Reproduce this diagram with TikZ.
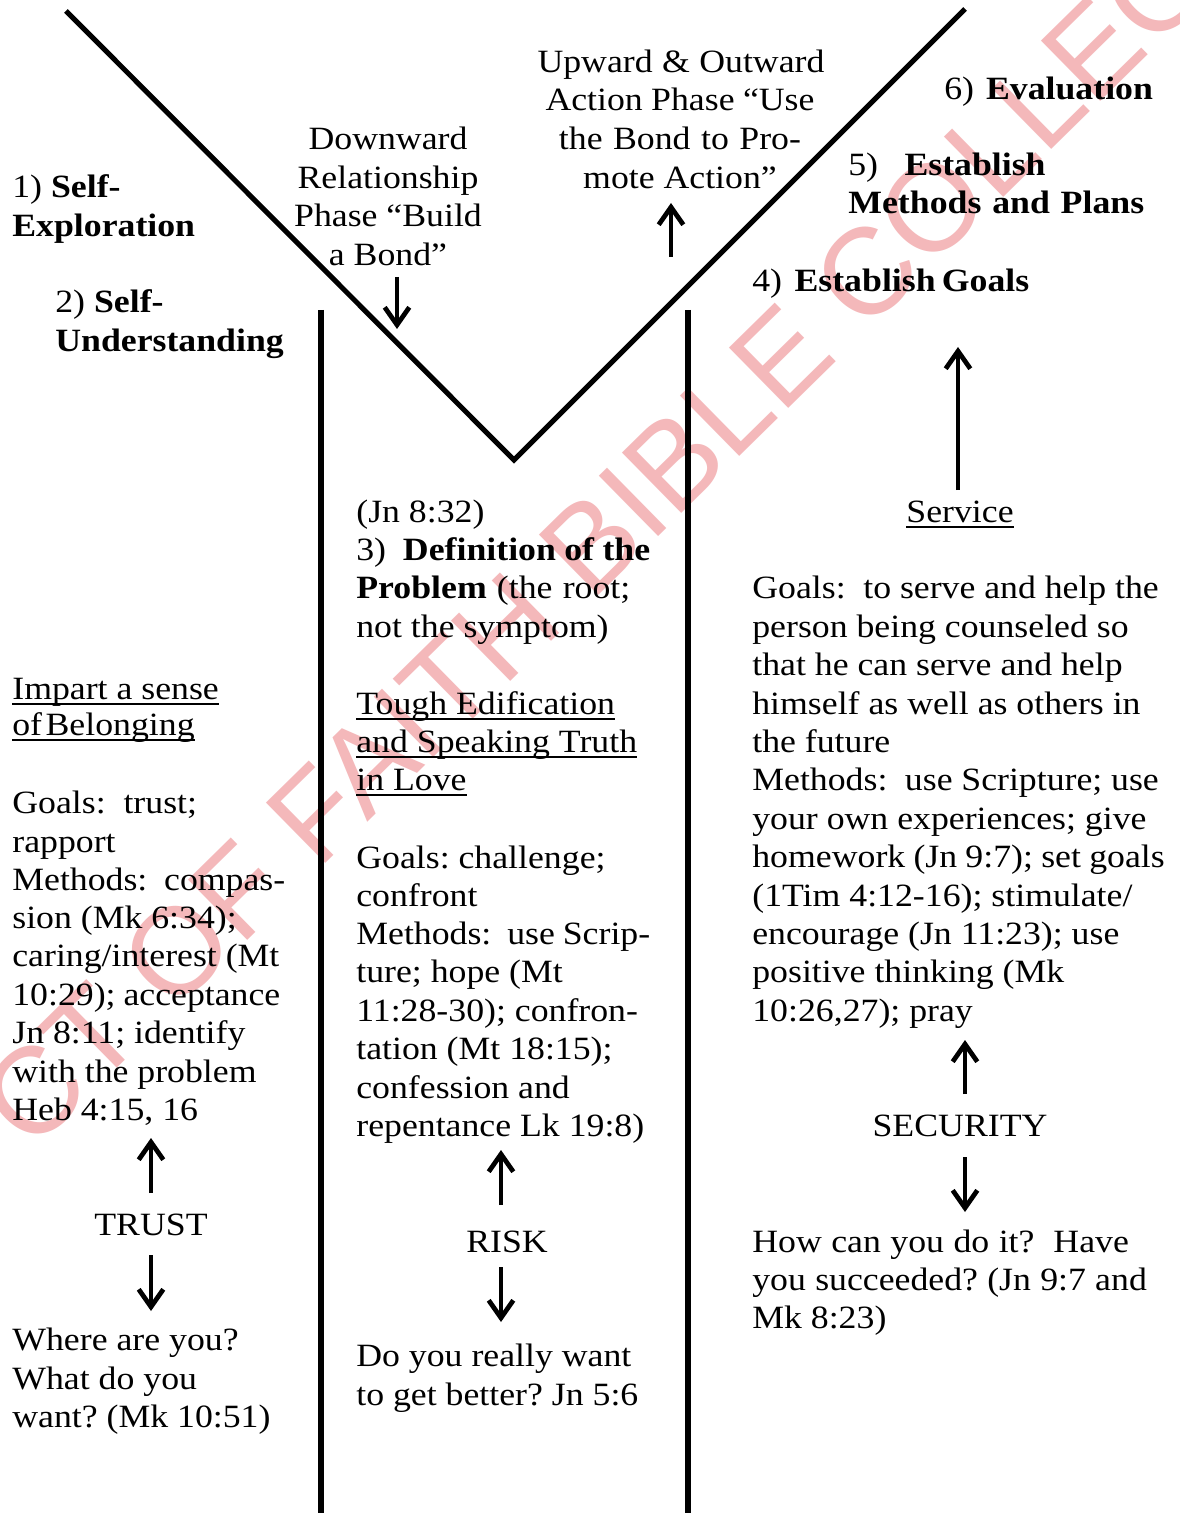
\documentclass[tikz,border=0pt]{standalone}
\usepackage{fontspec}
\setmainfont[FakeStretch=1.1]{Liberation Serif}
\newfontfamily\wmfont{Liberation Sans}
\usetikzlibrary{arrows.meta}
\definecolor{wmpink}{RGB}{244,184,186}
\newcommand\mfs{\fontsize{18.5}{22}\selectfont\frenchspacing}
\newcommand\myul[1]{\setbox0\hbox{#1}\rlap{\rule[-3.2pt]{\wd0}{0.9pt}}\box0}
\newcommand\J[2]{\makebox[\dimexpr #1pt*567/1000\relax][s]{#2}}
\begin{document}
\begin{tikzpicture}[x=0.02cm,y=-0.02cm,
  txt/.style={inner sep=0pt, anchor=base west, font=\mfs},
  ctxt/.style={inner sep=0pt, anchor=base, font=\mfs},
  vline/.style={line width=2.9pt, line join=miter},
  arr/.style={line width=2.7pt, -{Straight Barb[length=10pt,width=14pt]}}]
\useasboundingbox (0,0) rectangle (1179,1513);
\fill[white] (0,0) rectangle (1179,1513);
% watermark
\begin{scope}
\clip (0,0) rectangle (1179,1513);
\node[inner sep=0pt, anchor=base, rotate=44.5, text=wmpink, font=\wmfont\fontsize{70}{70}\selectfont] (wm) at (655,540) {CT OF FAITH BIBLE COLLEGE};
\end{scope}
% V shape and column lines
\coordinate (vl) at (66,11);
\coordinate (vb) at (514,460);
\coordinate (vr) at (965,9);
\draw[vline] (vl) -- (vb) -- (vr);
\coordinate (c1t) at (321,310);
\coordinate (c1b) at (321,1513);
\coordinate (c2t) at (688,310);
\coordinate (c2b) at (688,1513);
\draw[vline] (c1t) -- (c1b);
\draw[vline] (c2t) -- (c2b);
% top labels
\node[ctxt] (d1) at (388,150) {Downward};
\node[ctxt] (d2) at (388,189) {Relationship};
\node[ctxt] (d3) at (388,227) {Phase “Build};
\node[ctxt] (d4) at (388,266) {a Bond”};
\node[ctxt] (u1) at (681,73) {\J{288}{Upward \& Outward}};
\node[ctxt] (u2) at (680,111) {\J{270}{Action Phase “Use}};
\node[ctxt] (u3) at (680,150) {\J{243}{the Bond to Pro-}};
\node[ctxt] (u4) at (680,189) {mote Action”};
\coordinate (ad1) at (397,277);
\coordinate (ad2) at (397,329);
\draw[arr] (ad1) -- (ad2);
\coordinate (au1) at (671,257);
\coordinate (au2) at (671,203);
\draw[arr] (au1) -- (au2);
% left column
\node[txt] (s1a) at (12,198) {1) \textbf{Self-}};
\node[txt] (s1b) at (12,237) {\textbf{Exploration}};
\node[txt] (s2a) at (55,313) {2) \textbf{Self-}};
\node[txt] (s2b) at (55,352) {\textbf{Understanding}};
\node[txt] (lh1) at (12,699) {\myul{Impart a sense}};
\node[txt] (lh2) at (12,735) {\myul{of\kern2pt Belonging}};
\node[txt] (lg1) at (12,813) {Goals:~ trust;};
\node[txt] (lg2) at (12,852) {rapport};
\node[txt] (lg3) at (12,890) {\J{274}{Methods:~ compas-}};
\node[txt] (lg4) at (12,928) {sion (Mk 6:34);};
\node[txt] (lg5) at (12,966) {caring/interest (Mt};
\node[txt] (lg6) at (12,1005) {\J{269}{10:29); acceptance}};
\node[txt] (lg7) at (12,1043) {Jn 8:11; identify};
\node[txt] (lg8) at (12,1082) {with the problem};
\node[txt] (lg9) at (12,1120) {Heb 4:15, 16};
\node[ctxt] (trust) at (151,1235) {TRUST};
\node[txt] (lq1) at (12,1350) {Where are you?};
\node[txt] (lq2) at (12,1389) {What do you};
\node[txt] (lq3) at (12,1427) {want? (Mk 10:51)};
\coordinate (at1) at (151,1193);
\coordinate (at2) at (151,1138);
\draw[arr] (at1) -- (at2);
\coordinate (at3) at (151,1255);
\coordinate (at4) at (151,1311);
\draw[arr] (at3) -- (at4);
% middle column
\node[txt] (m1) at (356,522) {(Jn 8:32)};
\node[txt] (m2) at (356,560) {\J{295}{3)~ \textbf{Definition of the}}};
\node[txt] (m3) at (356,598) {\J{275}{\textbf{Problem} (the root;}};
\node[txt] (m4) at (356,637) {not the symptom)};
\node[txt] (mh1) at (356,714) {\myul{Tough Edification}};
\node[txt] (mh2) at (356,752) {\myul{and Speaking Truth}};
\node[txt] (mh3) at (356,790) {\myul{in Love}};
\node[txt] (mg1) at (356,868) {Goals: challenge;};
\node[txt] (mg2) at (356,906) {confront};
\node[txt] (mg3) at (356,944) {\J{295}{Methods:~ use Scrip-}};
\node[txt] (mg4) at (356,982) {ture; hope (Mt};
\node[txt] (mg5) at (356,1021) {11:28-30); confron-};
\node[txt] (mg6) at (356,1059) {tation (Mt 18:15);};
\node[txt] (mg7) at (356,1098) {confession and};
\node[txt] (mg8) at (356,1136) {repentance Lk 19:8)};
\node[ctxt] (risk) at (507,1252) {RISK};
\node[txt] (mq1) at (356,1366) {Do you really want};
\node[txt] (mq2) at (356,1405) {to get better? Jn 5:6};
\coordinate (ar1) at (501,1205);
\coordinate (ar2) at (501,1150);
\draw[arr] (ar1) -- (ar2);
\coordinate (ar3) at (501,1267);
\coordinate (ar4) at (501,1322);
\draw[arr] (ar3) -- (ar4);
% right column
\node[txt] (r6) at (944,100) {\J{206}{6)~ \textbf{Evaluation}}};
\node[txt] (r5a) at (848,176) {\J{198}{5)~~ \textbf{Establish}}};
\node[txt] (r5b) at (848,214) {\J{297}{\textbf{Methods and Plans}}};
\node[txt] (r4) at (752,292) {\J{278}{4)~ \textbf{Establish Goals}}};
\node[ctxt] (serv) at (960,522) {\myul{Service}};
\coordinate (as1) at (958,490);
\coordinate (as2) at (958,347);
\draw[arr] (as1) -- (as2);
\node[txt] (rg1) at (752,598) {\J{408}{Goals:~ to serve and help the}};
\node[txt] (rg2) at (752,637) {person being counseled so};
\node[txt] (rg3) at (752,675) {that he can serve and help};
\node[txt] (rg4) at (752,714) {himself as well as others in};
\node[txt] (rg5) at (752,752) {the future};
\node[txt] (rg6) at (752,790) {\J{408}{Methods:~ use Scripture; use}};
\node[txt] (rg7) at (752,829) {your own experiences; give};
\node[txt] (rg8) at (752,867) {\J{414}{homework (Jn 9:7); set goals}};
\node[txt] (rg9) at (752,906) {(1Tim 4:12-16); stimulate/};
\node[txt] (rg10) at (752,944) {encourage (Jn 11:23); use};
\node[txt] (rg11) at (752,982) {positive thinking (Mk};
\node[txt] (rg12) at (752,1021) {10:26,27); pray};
\node[ctxt] (sec) at (960,1136) {SECURITY};
\coordinate (ay1) at (965,1094);
\coordinate (ay2) at (965,1040);
\draw[arr] (ay1) -- (ay2);
\coordinate (ay3) at (965,1157);
\coordinate (ay4) at (965,1212);
\draw[arr] (ay3) -- (ay4);
\node[txt] (rq1) at (752,1252) {\J{378}{How can you do it?~ Have}};
\node[txt] (rq2) at (752,1290) {\J{396}{you succeeded? (Jn 9:7 and}};
\node[txt] (rq3) at (752,1328) {Mk 8:23)};
\end{tikzpicture}
\end{document}
